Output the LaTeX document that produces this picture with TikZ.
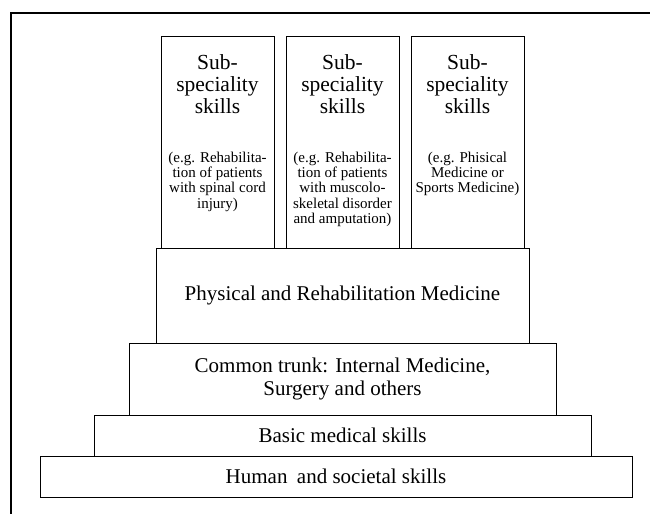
\documentclass[tikz,border=0pt]{standalone}
\usepackage{fontspec}
\setmainfont{Liberation Serif}
\begin{document}
\begin{tikzpicture}[x=1pt,y=-1pt,
  box/.style={draw=black, line width=0.9pt, inner sep=0pt},
  big/.style={font=\fontsize{21}{22.5}\selectfont, align=center, inner sep=0pt},
  title/.style={font=\fontsize{21.5}{22.3}\selectfont, align=center, inner sep=0pt},
  small/.style={font=\fontsize{15}{15.3}\selectfont, align=center, inner sep=0pt}]
\useasboundingbox (0,0) rectangle (650,514);
% frame
\draw[line width=1.2pt] (650,13) -- (11,13) -- (11,514);
% layers
\node[box, minimum width=592pt, minimum height=41pt] (human) at (336,476.5) {};
\node[box, minimum width=497pt, minimum height=41pt] (basic) at (342.5,435.5) {};
\node[box, minimum width=427pt, minimum height=72pt] (trunk) at (342.5,379) {};
\node[box, minimum width=373pt, minimum height=95pt] (prm) at (342.5,295.5) {};
\node[box, minimum width=113pt, minimum height=212pt] (s1) at (217.5,142) {};
\node[box, minimum width=113pt, minimum height=212pt] (s2) at (342.5,142) {};
\node[box, minimum width=113pt, minimum height=212pt] (s3) at (467.5,142) {};
% texts
\node[big] (humant) at (human.center) {Human\hspace{0.45em}and societal skills};
\node[big] (basict) at (basic.center) {Basic medical skills};
\node[big] (trunkt) at (trunk.center) {Common trunk: Internal Medicine,\\Surgery and others};
\node[big] (prmt) at (prm.center) {Physical and Rehabilitation Medicine};
\foreach \s in {s1,s2,s3}{
  \node[title, anchor=north] (\s t) at ([yshift=-18.5pt]\s.north) {Sub-\\speciality\\skills};
}
\node[small, anchor=north] (s1d) at ([yshift=-116pt]s1.north) {(e.g. Rehabilita-\\tion of patients\\with spinal cord\\injury)};
\node[small, anchor=north] (s2d) at ([yshift=-116pt]s2.north) {(e.g. Rehabilita-\\tion of patients\\with muscolo-\\skeletal disorder\\and amputation)};
\node[small, anchor=north] (s3d) at ([yshift=-116pt]s3.north) {(e.g. Phisical\\Medicine or\\Sports Medicine)};
\end{tikzpicture}
\end{document}
